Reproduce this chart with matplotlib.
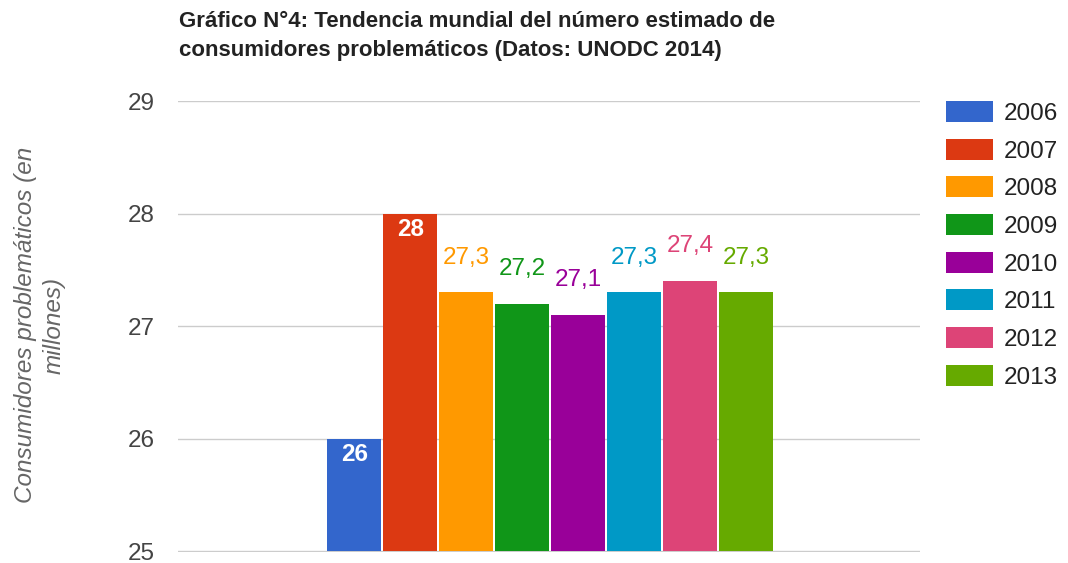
import matplotlib.pyplot as plt

# data
years = ['2006', '2007', '2008', '2009', '2010', '2011', '2012', '2013']
values = [26, 28, 27.3, 27.2, 27.1, 27.3, 27.4, 27.3]
labels = ['26', '28', '27,3', '27,2', '27,1', '27,3', '27,4', '27,3']
inside = [True, True, False, False, False, False, False, False]
colors = ['#3366cc', '#dc3912', '#ff9900', '#109618',
          '#990099', '#0099c6', '#dd4477', '#66aa00']
yticks = [25, 26, 27, 28, 29]

plt.rcParams['font.family'] = ['Liberation Sans', 'DejaVu Sans']
fs = 17.5

fig = plt.figure(figsize=(10.68, 5.63), dpi=100)
ax = fig.add_axes([0.1667, 0.0195, 0.6947, 0.8011])

x = range(len(years))
bars = ax.bar(x, [v - 25 for v in values], bottom=25, width=0.965,
              color=colors, label=years, zorder=3)

for i, b in enumerate(bars):
    top = values[i]
    if inside[i]:
        ax.annotate(labels[i], (b.get_x() + b.get_width() / 2, top),
                    xytext=(0, -11.5), textcoords='offset points',
                    ha='center', va='center', color='white',
                    fontsize=fs, fontweight='bold', zorder=4)
    else:
        ax.annotate(labels[i], (b.get_x() + b.get_width() / 2, top),
                    xytext=(0, 25), textcoords='offset points',
                    ha='center', va='center', color=colors[i],
                    fontsize=fs, zorder=4)

ax.set_xlim(-3.15, 10.1)
ax.set_ylim(24.995, 29)
ax.set_yticks(yticks)
ax.set_yticklabels([str(t) for t in yticks], fontsize=fs, color='#444444')
ax.tick_params(axis='y', length=0, pad=17)
ax.set_xticks([])
ax.grid(axis='y', color='#cccccc', linewidth=1, zorder=0)
for s in ax.spines.values():
    s.set_visible(False)

fig.text(40 / 1068, 1 - 325 / 563,
         'Consumidores problemáticos (en\nmillones)',
         rotation=90, ha='center', va='center', fontsize=fs,
         style='italic', color='#666666', multialignment='center',
         linespacing=1.3)

fig.text(179 / 1068, 1 - 11 / 563,
         'Gráfico N°4: Tendencia mundial del número estimado de\n'
         'consumidores problemáticos (Datos: UNODC 2014)',
         ha='left', va='top', fontsize=16, fontweight='bold',
         color='#222222', linespacing=1.5)

leg = ax.legend(loc='upper left', bbox_to_anchor=(1.035, 1.0),
                frameon=False, fontsize=fs, handlelength=1.93,
                handleheight=0.95, labelspacing=0.57, handletextpad=0.45,
                borderaxespad=0, borderpad=0)
for t in leg.get_texts():
    t.set_color('#222222')

fig.savefig('out.png', dpi=100)
